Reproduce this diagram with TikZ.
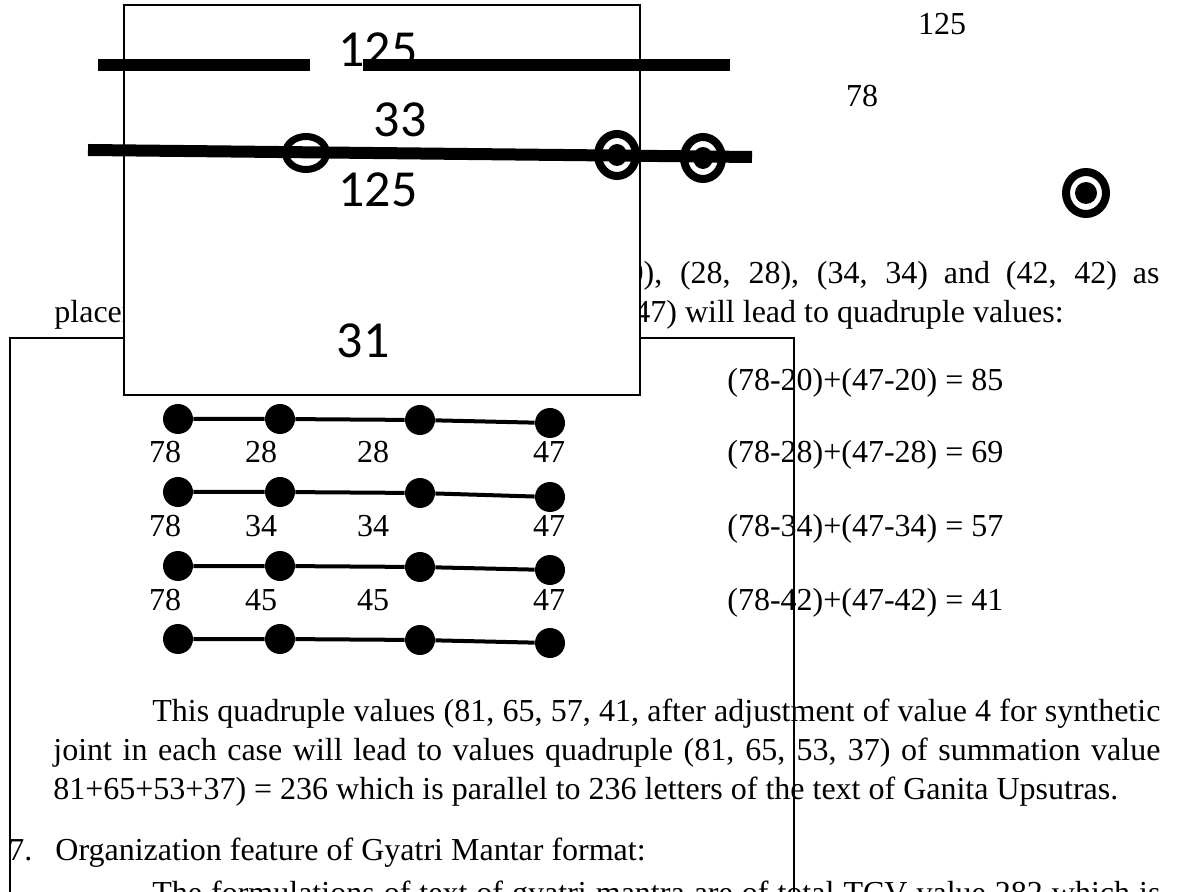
\documentclass[tikz,border=0pt]{standalone}
\usepackage{fontspec}
\setmainfont{Liberation Serif}
\newfontfamily\calibrifont{Carlito}
\begin{document}
\begin{tikzpicture}[x=0.5pt,y=-0.5pt,
  txt/.style={anchor=base west,inner sep=0pt,font=\fontsize{16}{19}\selectfont},
  num/.style={anchor=base,inner sep=0pt,font=\fontsize{16}{19}\selectfont},
  boxnum/.style={anchor=base,inner sep=0pt,font=\calibrifont\fontsize{26}{30}\selectfont},
  dot/.style={circle,fill=black,inner sep=0pt,minimum size=15pt},
  link/.style={line width=2pt},
  bar/.style={line width=6pt},
  frame/.style={line width=1pt}]
\useasboundingbox (0,0) rectangle (1177,892);

% page text under the boxes
\node[txt,anchor=base east] (asline) at (1160,284) {\makebox[266pt][s]{0), (28, 28), (34, 34) and (42, 42) as}};
\node[txt] (placeword) at (54,323) {placem};
\node[txt] (willline) at (634,323) {47) will lead to quadruple values:};

\node[txt] (sumA) at (727,391) {(78-20)+(47-20) = 85};
\node[txt] (sumB) at (727,463) {(78-28)+(47-28) = 69};
\node[txt] (sumC) at (727,537) {(78-34)+(47-34) = 57};
\node[txt] (sumD) at (727,610) {(78-42)+(47-42) = 41};

\node[txt] (parA) at (152,721) {\makebox[504pt][s]{This quadruple values (81, 65, 57, 41, after adjustment of value 4 for synthetic}};
\node[txt] (parB) at (53,760) {\makebox[553.5pt][s]{joint in each case will lead to values quadruple (81, 65, 53, 37) of summation value}};
\node[txt] (parC) at (53,799) {81+65+53+37) = 236 which is parallel to 236 letters of the text of Ganita Upsutras.};
\node[txt] (itemnum) at (8,860) {7.};
\node[txt] (itemtext) at (55,860) {Organization feature of Gyatri Mantar format:};
\node[txt] (parD) at (152,903) {\makebox[504pt][s]{The formulations of text of gyatri mantra are of total TCV value 282 which is}};

% outer frame
\draw[line width=1.2pt] (10,900) -- (10,338) -- (794,338) -- (794,900);

% white box on top
\draw[frame,fill=white] (124,5) rectangle (640,395);
\node[boxnum] (numTop) at (378,67) {125};
\node[boxnum] (numMid) at (400,137) {33};
\node[boxnum] (numLow) at (378,207) {125};
\node[boxnum] (numBase) at (363,358) {31};

\node[num] (rightTop) at (942,35) {125};
\node[num] (rightMid) at (862,107) {78};

% bars and rings
\draw[bar] (98,65) -- (310,65);
\draw[bar] (363,65) -- (730,65);
\draw[line width=3.5pt] (306,153) ellipse [x radius=10.25pt,y radius=8.25pt];
\draw[line width=4pt] (617,155) ellipse [x radius=9.5pt,y radius=10.5pt];
\fill (617,155) ellipse [x radius=5pt,y radius=5.5pt];
\draw[line width=4pt] (703,158) ellipse [x radius=9.5pt,y radius=10.5pt];
\fill (703,158) ellipse [x radius=5pt,y radius=5.5pt];
\draw[bar] (88,150) -- (752,157);
\draw[line width=4pt] (1086,193) ellipse [x radius=10pt,y radius=10.5pt];
\fill (1086,193) ellipse [x radius=5.5pt,y radius=5.5pt];

% dot rows
\node[dot] (d11) at (178,419) {};
\node[dot] (d12) at (280,419) {};
\node[dot] (d13) at (420,420) {};
\node[dot] (d14) at (550,423) {};
\draw[link] (d11) -- (d12) -- (d13) -- (d14);
\node[num] (l11) at (165,463) {78};
\node[num] (l12) at (261,463) {28};
\node[num] (l13) at (373,463) {28};
\node[num] (l14) at (549,463) {47};

\node[dot] (d21) at (178,492) {};
\node[dot] (d22) at (280,492) {};
\node[dot] (d23) at (420,493) {};
\node[dot] (d24) at (550,497) {};
\draw[link] (d21) -- (d22) -- (d23) -- (d24);
\node[num] (l21) at (165,537) {78};
\node[num] (l22) at (261,537) {34};
\node[num] (l23) at (373,537) {34};
\node[num] (l24) at (549,537) {47};

\node[dot] (d31) at (178,566) {};
\node[dot] (d32) at (280,566) {};
\node[dot] (d33) at (420,567) {};
\node[dot] (d34) at (550,570) {};
\draw[link] (d31) -- (d32) -- (d33) -- (d34);
\node[num] (l31) at (165,610) {78};
\node[num] (l32) at (261,610) {45};
\node[num] (l33) at (373,610) {45};
\node[num] (l34) at (549,610) {47};

\node[dot] (d41) at (178,639) {};
\node[dot] (d42) at (280,639) {};
\node[dot] (d43) at (420,640) {};
\node[dot] (d44) at (550,643) {};
\draw[link] (d41) -- (d42) -- (d43) -- (d44);
\end{tikzpicture}
\end{document}
